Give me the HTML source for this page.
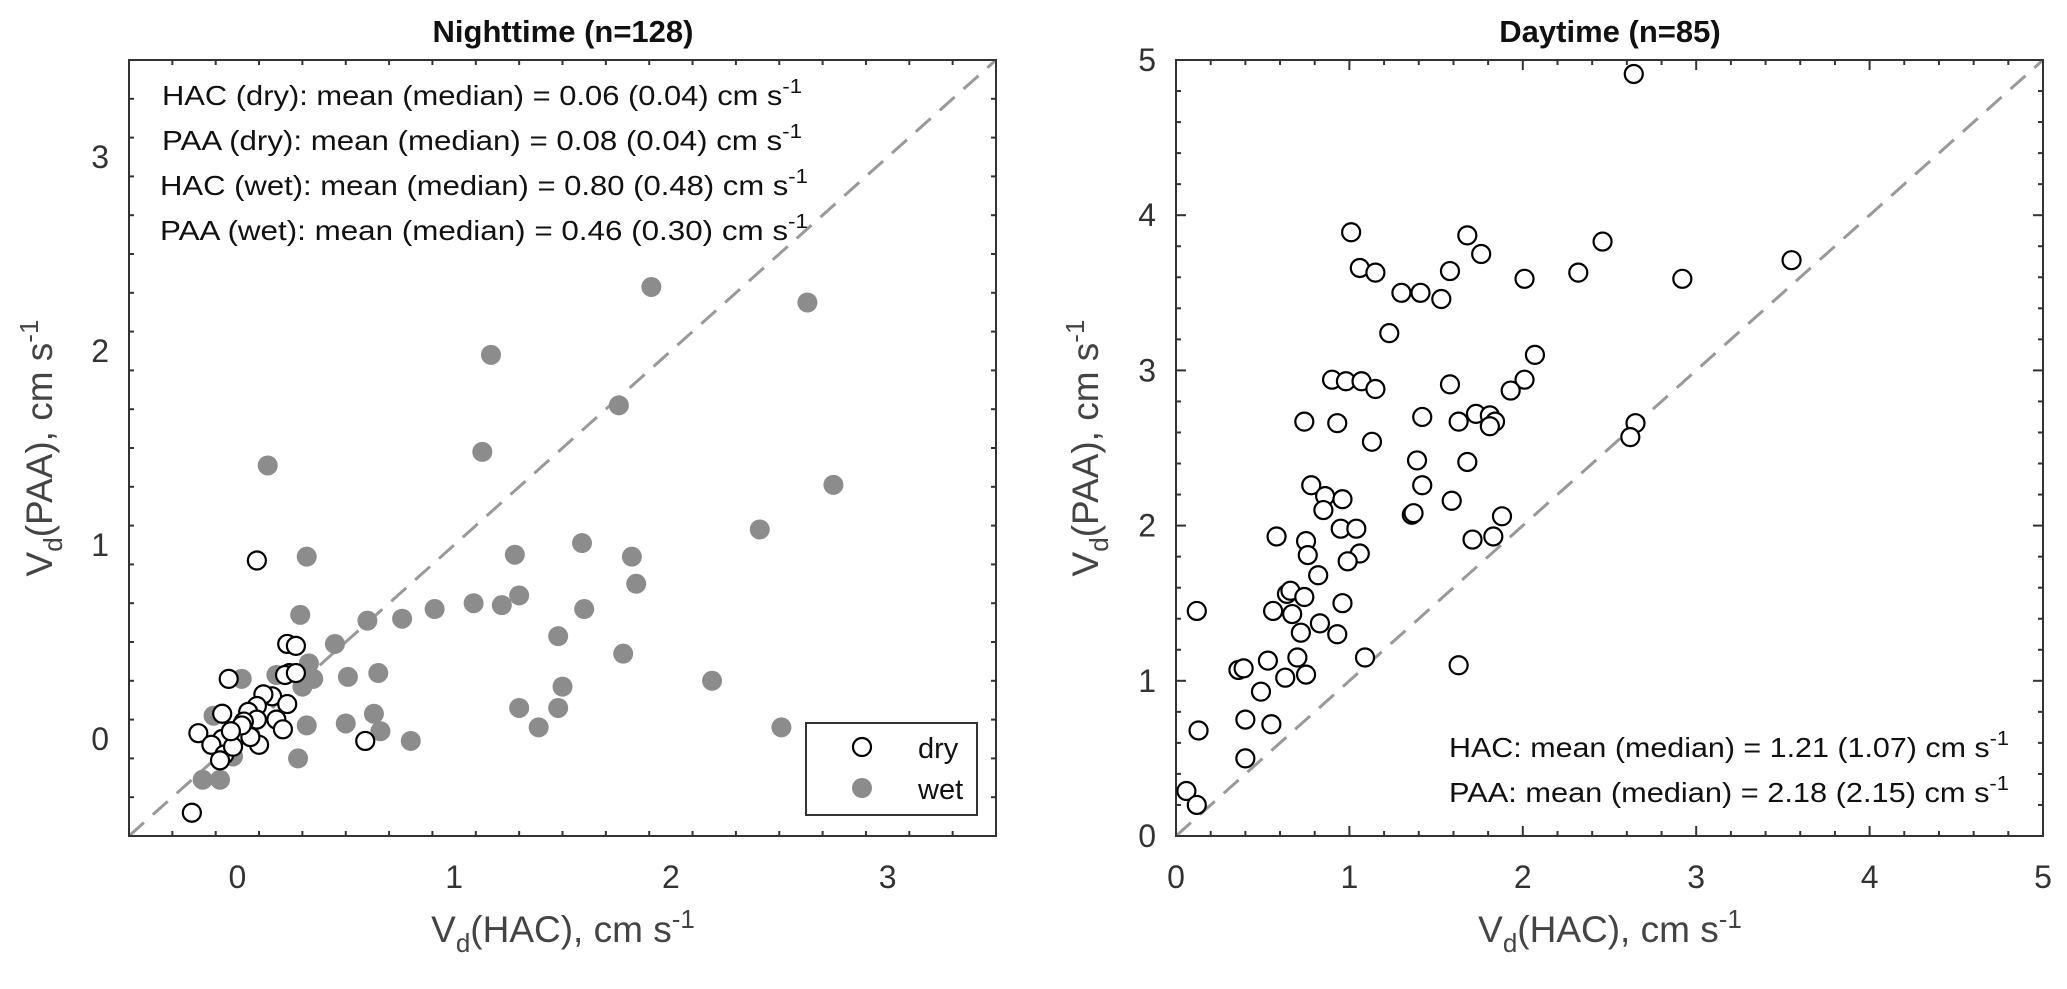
<!DOCTYPE html>
<html><head><meta charset="utf-8"><style>
html,body{margin:0;padding:0;background:#fff;}
svg{display:block;font-family:"Liberation Sans",Arial,sans-serif;}
</style></head><body>
<svg id="chart" width="2067" height="989" viewBox="0 0 2067 989" xmlns="http://www.w3.org/2000/svg">
<g id="left"></g>
<g id="right"></g>
</svg>
<script>
// Nighttime data
const nightWetX = [1.91,2.63,1.17,1.76,1.13,0.14,2.75,2.41,1.59,1.28,1.82,0.32,1.84,1.09,1.22,1.30,0.91,1.60,0.76,0.60,0.29,0.45,1.48,1.78,0.33,0.35,0.51,0.65,0.02,2.19,1.50,0.32,0.30,1.30,1.48,0.63,0.32,0.50,1.39,2.51,0.66,0.80,0.28,-0.16,-0.08,0.18,-0.11,-0.02,0.06];
const nightWetY = [2.33,2.25,1.98,1.72,1.48,1.41,1.31,1.08,1.01,0.95,0.94,0.94,0.80,0.70,0.69,0.74,0.67,0.67,0.62,0.61,0.64,0.49,0.53,0.44,0.39,0.31,0.32,0.34,0.31,0.30,0.27,0.30,0.27,0.16,0.16,0.13,0.07,0.08,0.06,0.06,0.04,-0.01,-0.10,-0.21,-0.21,0.33,0.12,-0.09,0.02];
const nightDryX = [0.09,-0.21,0.59,0.23,0.27,-0.04,0.24,0.22,0.27,0.16,0.23,0.12,0.09,0.18,0.21,-0.18,-0.07,0.05,0.09,0.03,0.10,0.01,-0.07,-0.12,-0.06,-0.08,-0.02,0.06,0.02,-0.03];
const nightDryY = [0.92,-0.38,-0.01,0.49,0.48,0.31,0.34,0.33,0.34,0.22,0.18,0.23,0.17,0.10,0.05,0.03,0.13,0.14,0.10,0.09,-0.03,0.02,0.00,-0.03,-0.08,-0.11,-0.04,0.01,0.07,0.04];
const nightTicks = [0,1,2,3];
// Daytime data
const dayX = [2.64,1.01,1.68,2.46,1.76,3.55,1.06,1.15,1.58,2.32,2.01,2.92,1.30,1.41,1.53,1.23,2.07,0.90,0.98,1.07,2.01,1.58,1.15,1.93,0.74,0.93,1.42,1.73,1.81,1.63,1.84,1.81,2.65,2.62,1.13,1.39,1.68,0.78,1.42,0.86,0.96,1.59,0.85,1.36,1.37,1.88,0.58,0.95,1.04,1.71,1.83,0.75,0.76,1.06,0.99,0.82,0.64,0.66,0.74,0.96,0.56,0.67,0.12,0.83,0.72,0.93,0.70,1.09,0.53,0.36,0.39,0.63,0.75,1.63,0.49,0.40,0.55,0.13,0.40,0.06,0.12];
const dayY = [4.91,3.89,3.87,3.83,3.75,3.71,3.66,3.63,3.64,3.63,3.59,3.59,3.50,3.50,3.46,3.24,3.10,2.94,2.93,2.93,2.94,2.91,2.88,2.87,2.67,2.66,2.70,2.72,2.71,2.67,2.67,2.64,2.66,2.57,2.54,2.42,2.41,2.26,2.26,2.19,2.17,2.16,2.10,2.07,2.08,2.06,1.93,1.98,1.98,1.91,1.93,1.90,1.81,1.82,1.77,1.68,1.56,1.58,1.54,1.50,1.45,1.43,1.45,1.37,1.31,1.30,1.15,1.15,1.13,1.07,1.08,1.02,1.04,1.10,0.93,0.75,0.72,0.68,0.50,0.29,0.20];
const dayTicks = [0,1,2,3,4,5];

const NS='http://www.w3.org/2000/svg';
function mk(parent,tag,attrs,text){const e=document.createElementNS(NS,tag);for(const k in attrs)e.setAttribute(k,attrs[k]);if(text!==undefined)e.textContent=text;parent.appendChild(e);return e;}

function panel(g,cfg){
  const {x0,x1,y0,y1,xmin,xmax,ymin,ymax}=cfg;
  const sx=v=>x0+(v-xmin)/(xmax-xmin)*(x1-x0);
  const sy=v=>y1-(v-ymin)/(ymax-ymin)*(y1-y0);
  // diagonal
  const lo=Math.max(xmin,ymin),hi=Math.min(xmax,ymax);
  const d=mk(g,'line',{x1:sx(lo),y1:sy(lo),x2:sx(hi),y2:sy(hi),stroke:'#999','stroke-width':3,'stroke-dasharray':'20,12'});
  
  
  // ticks
  const tg=mk(g,'g',{});
  
  
  const n=Math.round((xmax-xmin)/0.2);
  for(let i=0;i<=n;i++){const v=xmin+i*0.2;const major=Math.abs(v-Math.round(v))<1e-6;const L=major?10:5;
    mk(tg,'line',{x1:sx(v),x2:sx(v),y1:y1,y2:y1-L,stroke:'#333','stroke-width':2});
    mk(tg,'line',{x1:sx(v),x2:sx(v),y1:y0,y2:y0+L,stroke:'#333','stroke-width':2});}
  const m=Math.round((ymax-ymin)/0.2);
  for(let i=0;i<=m;i++){const v=ymin+i*0.2;const major=Math.abs(v-Math.round(v))<1e-6;const L=major?10:5;
    mk(tg,'line',{y1:sy(v),y2:sy(v),x1:x0,x2:x0+L,stroke:'#333','stroke-width':2});
    mk(tg,'line',{y1:sy(v),y2:sy(v),x1:x1,x2:x1-L,stroke:'#333','stroke-width':2});}
  cfg.ticks.forEach(t=>{
    const a=mk(g,'text',{x:sx(t),y:y1+52,'text-anchor':'middle','font-size':32,fill:'#333'},String(t));
    
    
    const b=mk(g,'text',{x:x0-20,y:sy(t)+11,'text-anchor':'end','font-size':32,fill:'#333'},String(t));
    
    
  });
  const box=mk(g,'rect',{x:x0,y:y0,width:x1-x0,height:y1-y0,fill:'none',stroke:'#333','stroke-width':2});
  
  
  return {sx,sy};
}

function points(g,sx,sy,xs,ys,filled,name){
  const pg=mk(g,'g',{});
  
  
  for(let i=0;i<xs.length;i++){
    const c=mk(pg,'circle',{cx:sx(xs[i]),cy:sy(ys[i]),r:filled?10:9,fill:filled?'#8c8c8c':'#fff',stroke:filled?'none':'#000','stroke-width':2.2});
    
    
  }
}

function labels(g,cx,y0,y1,ylabx,title){
  const t=mk(g,'text',{x:cx,y:42,'text-anchor':'middle','font-size':31,'font-weight':'bold',fill:'#111'},title);
  
  
  const xl=mk(g,'text',{x:cx,y:942,'text-anchor':'middle','font-size':37,fill:'#444'});
  
  
  xl.innerHTML='V<tspan font-size="26" dy="10">d</tspan><tspan dy="-10">(HAC), cm s</tspan><tspan font-size="26" dy="-14">-1</tspan>';
  const ycy=(y0+y1)/2;
  const yl=mk(g,'text',{x:ylabx,y:ycy,'text-anchor':'middle','font-size':37,fill:'#444',transform:`rotate(-90 ${ylabx} ${ycy})`});
  
  
  yl.innerHTML='V<tspan font-size="26" dy="10">d</tspan><tspan dy="-10">(PAA), cm s</tspan><tspan font-size="26" dy="-14">-1</tspan>';
}

function annot(g,x,y,txt,len){
  const a=mk(g,'text',{x:x,y:y,'font-size':28,fill:'#111',textLength:len,lengthAdjust:'spacingAndGlyphs'});
  
  
  a.innerHTML=txt+' cm s<tspan font-size="20" dy="-12">-1</tspan>';
}

// LEFT
const L=document.getElementById('left');
const lp=panel(L,{x0:129,x1:996,y0:60,y1:836,xmin:-0.5,xmax:3.5,ymin:-0.5,ymax:3.5,ticks:nightTicks});
points(L,lp.sx,lp.sy,nightWetX,nightWetY,true,'wet-series');
points(L,lp.sx,lp.sy,nightDryX,nightDryY,false,'dry-series');
labels(L,563,60,836,52,'Nighttime (n=128)');
annot(L,162,105,'HAC (dry): mean (median) = 0.06 (0.04)',640);
annot(L,162,150,'PAA (dry): mean (median) = 0.08 (0.04)',640);
annot(L,160,195,'HAC (wet): mean (median) = 0.80 (0.48)',648);
annot(L,160,240,'PAA (wet): mean (median) = 0.46 (0.30)',648);
const lg=mk(L,'g',{});


mk(lg,'rect',{x:806,y:723,width:171,height:92,fill:'#fff',stroke:'#333','stroke-width':2});
const ld=mk(lg,'circle',{cx:862,cy:747,r:9,fill:'#fff',stroke:'#000','stroke-width':2.2});


mk(lg,'text',{x:918,y:758,'font-size':29,fill:'#111'},'dry');
const lw=mk(lg,'circle',{cx:862,cy:788,r:10,fill:'#8c8c8c'});


mk(lg,'text',{x:918,y:799,'font-size':29,fill:'#111'},'wet');

// RIGHT
const R=document.getElementById('right');
const rp=panel(R,{x0:1176,x1:2043,y0:60,y1:836,xmin:0,xmax:5,ymin:0,ymax:5,ticks:dayTicks});
points(R,rp.sx,rp.sy,dayX,dayY,false,'daytime-series');
labels(R,1610,60,836,1098,'Daytime (n=85)');
annot(R,1449,757,'HAC: mean (median) = 1.21 (1.07)',560);
annot(R,1449,802,'PAA: mean (median) = 2.18 (2.15)',560);
</script>
</body></html>
